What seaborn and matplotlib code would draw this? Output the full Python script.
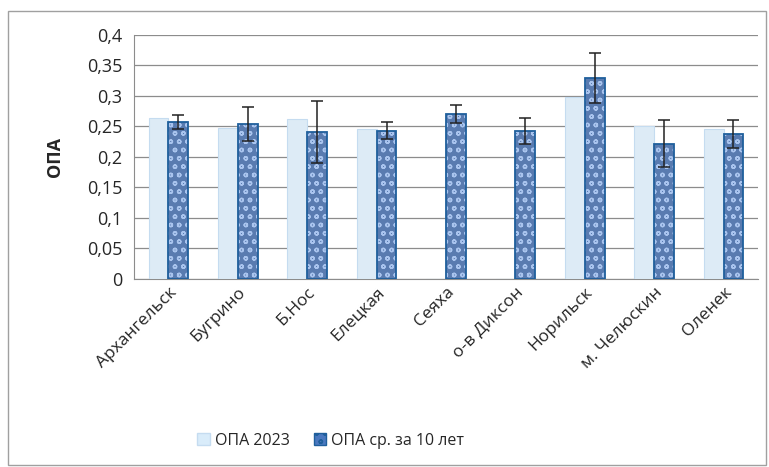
import matplotlib
matplotlib.use('Agg')
import matplotlib.pyplot as plt
from matplotlib.patches import Rectangle, Patch
from matplotlib.ticker import MultipleLocator, FuncFormatter
import numpy as np
import pandas as pd
import seaborn as sns

stations = ['Архангельск', 'Бугрино', 'Б.Нос', 'Елецкая', 'Сеяха',
            'о-в Диксон', 'Норильск', 'м. Челюскин', 'Оленек']
opa_2023 = [0.264, 0.248, 0.263, 0.246, 0.0, 0.0, 0.299, 0.250, 0.246]
opa_avg = [0.257, 0.254, 0.241, 0.243, 0.270, 0.243, 0.330, 0.222, 0.237]
opa_err = [0.012, 0.028, 0.051, 0.014, 0.015, 0.021, 0.041, 0.038, 0.023]
series = ['ОПА 2023', 'ОПА ср. за 10 лет']

df = pd.DataFrame({
    'station': stations * 2,
    'value': opa_2023 + opa_avg,
    'series': [series[0]] * len(stations) + [series[1]] * len(stations),
})

sns.set_style('white')
plt.rcParams['font.family'] = ['Open Sans', 'DejaVu Sans']

fig = plt.figure(figsize=(7.69, 4.67), dpi=100)
ax = fig.add_axes([0.174, 0.403, 0.812, 0.522])

light = '#d9ecfa'
dark = '#4a78bf'
sns.barplot(data=df, x='station', y='value', hue='series', hue_order=series,
            palette=[light, dark], width=0.57, gap=0, ax=ax, legend=False,
            zorder=3)

# style bars: first series plain, second textured
n = len(stations)
bars = ax.patches[:2 * n]
for p in bars[:n]:
    p.set_edgecolor('#c5dcf0')
    p.set_linewidth(0.8)
for p in bars[n:]:
    p.set_edgecolor('#a9c4ee')
    p.set_hatch('oo')
    p.set_linewidth(0)
    ax.add_patch(Rectangle(p.get_xy(), p.get_width(), p.get_height(),
                           fill=False, edgecolor='#1f5f9c', linewidth=1.3,
                           zorder=4))

xc = [p.get_x() + p.get_width() / 2 for p in bars[n:]]
ax.errorbar(xc, opa_avg, yerr=opa_err, fmt='none', ecolor='#222222',
            elinewidth=1.1, capsize=4.5, capthick=1.1, zorder=5)

ax.set_ylim(0, 0.4)
ax.set_xlim(-0.5, n - 0.5)
ax.yaxis.set_major_locator(MultipleLocator(0.05))
ax.yaxis.set_major_formatter(FuncFormatter(
    lambda v, _: ('%g' % round(v, 2)).replace('.', ',')))
ax.grid(axis='y', color='#8c8c8c', linewidth=0.9, zorder=0)
ax.set_axisbelow(True)
for s in ['top', 'right']:
    ax.spines[s].set_visible(False)
ax.spines['left'].set_color('#8c8c8c')
ax.spines['bottom'].set_color('#8c8c8c')

ax.set_xticks(np.arange(-0.5, n, 1.0), minor=True)
ax.tick_params(axis='x', which='major', length=0, pad=4)
ax.tick_params(axis='x', which='minor', length=5, color='#8c8c8c',
               direction='out')
ax.tick_params(axis='y', length=5, color='#8c8c8c', direction='out',
               labelsize=13)
ax.set_xticks(range(n))
ax.set_xticklabels(stations, rotation=45, ha='right', rotation_mode='anchor',
                   fontsize=12.5)
ax.set_xlabel('')
ax.set_ylabel('ОПА', fontsize=13, fontweight='bold', labelpad=16)

handles = [Patch(facecolor=light, edgecolor='#c5dcf0'),
           Patch(facecolor=dark, edgecolor='#1f5f9c', hatch='oo')]
fig.legend(handles, series, loc='center', bbox_to_anchor=(0.43, 0.056),
           ncol=2, frameon=False, fontsize=11.5, handlelength=0.8,
           handleheight=0.8, handletextpad=0.3, columnspacing=1.5)

fig.add_artist(Rectangle((0.011, 0.004), 0.985, 0.972,
                         transform=fig.transFigure, fill=False,
                         edgecolor='#a0a0a0', linewidth=1.0))

fig.savefig('out.png', dpi=100)
